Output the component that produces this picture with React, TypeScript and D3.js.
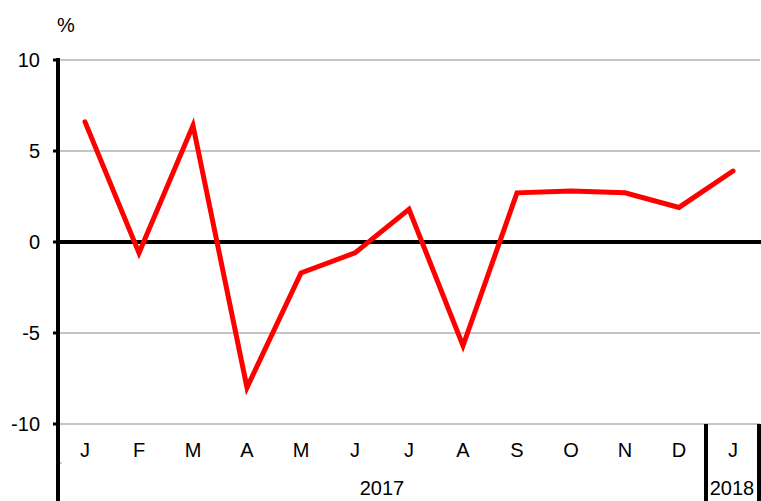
import React from "react";
import * as d3 from "d3";

const months = ["J", "F", "M", "A", "M", "J", "J", "A", "S", "O", "N", "D", "J"];
const values = [6.6, -0.6, 6.4, -8.0, -1.7, -0.6, 1.8, -5.7, 2.7, 2.8, 2.7, 1.9, 3.9];
const yTicks = [10, 5, 0, -5, -10];
const years = [
  { label: "2017", start: 0, end: 12 },
  { label: "2018", start: 12, end: 13 },
];

export default function App() {
  const W = 761, H = 501;
  const left = 58, right = 760, top = 60, bottom = 424;
  const x = d3.scaleBand<number>().domain(d3.range(months.length)).range([left, right]);
  const y = d3.scaleLinear().domain([-10, 10]).range([bottom, top]);
  const line = d3.line<number>().x((_, i) => (x(i) as number) + x.bandwidth() / 2).y((d) => y(d));
  const font = "Liberation Sans, Arial, sans-serif";
  return (
    <svg width={W} height={H} style={{ position: "absolute", left: 0, top: 0 }} fontFamily={font}>
      <rect width={W} height={H} fill="white" />
      {yTicks.filter((t) => t !== 0).map((t) => (
        <line key={t} x1={left} x2={right} y1={y(t)} y2={y(t)} stroke="#b0b0b0" strokeWidth={1.3} />
      ))}
      {yTicks.map((t) => (
        <g key={"t" + t}>
          <line x1={53} x2={left} y1={y(t)} y2={y(t)} stroke="black" strokeWidth={3} />
          <text x={40} y={y(t)} dy="0.35em" textAnchor="end" fontSize={20}>{t}</text>
        </g>
      ))}
      <text x={66} y={32} textAnchor="middle" fontSize={20}>%</text>
      {months.map((m, i) => (
        <text key={i} x={(x(i) as number) + x.bandwidth() / 2} y={450} dy="0.35em" textAnchor="middle" fontSize={20}>{m}</text>
      ))}
      {years.map((yr) => (
        <text key={yr.label} x={((x(yr.start) as number) + (yr.end < months.length ? (x(yr.end) as number) : right)) / 2 + (yr.end === months.length ? -1 : 0)} y={488} dy="0.35em" textAnchor="middle" fontSize={20}>{yr.label}</text>
      ))}
      <line x1={left} x2={62} y1={463} y2={463} stroke="#999" strokeWidth={1} />
      <line x1={x(12) as number} x2={x(12) as number} y1={bottom} y2={H} stroke="black" strokeWidth={4} />
      <line x1={right - 1} x2={right - 1} y1={bottom} y2={H} stroke="black" strokeWidth={4} />
      <line x1={left} x2={W} y1={y(0)} y2={y(0)} stroke="black" strokeWidth={4} />
      <line x1={left} x2={left} y1={top - 2} y2={H} stroke="black" strokeWidth={4} />
      <path d={line(values) || ""} fill="none" stroke="#ff0000" strokeWidth={5} strokeLinejoin="miter" strokeLinecap="round" />
    </svg>
  );
}
